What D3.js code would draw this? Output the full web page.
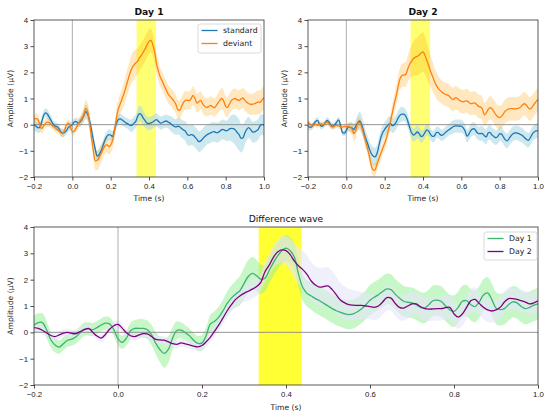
<!DOCTYPE html>
<meta charset="utf-8">
<head>
<style>
  body {margin: 0; background: #fff;}
  svg {font-family: "DejaVu Sans", sans-serif;}
  .tick text {font-size: 7.8px; fill: #222;}
  .tick line {stroke: #222; stroke-width: 0.8;}
  .domain {display: none;}
  .lbl {font-size: 7.6px; fill: #222;}
</style>
<script src="https://d3js.org/d3.v7.min.js"></script>
</head>
<body>
<script>
// sampling grid: -0.2 s to 1.0 s, every 10 ms
var times = d3.range(121).map(function(i) {return +(-0.2 + i * 0.01).toFixed(2);});
var xTicks = [-0.2, 0.0, 0.2, 0.4, 0.6, 0.8, 1.0];
var yTicks = [-2, -1, 0, 1, 2, 3, 4];
var window1 = [0.335, 0.437];

// Day 1
var d1Std = [0.0,-0.05,-0.12,-0.1,0.1,0.35,0.45,0.4,0.28,0.15,
  0.02,-0.05,-0.08,-0.15,-0.28,-0.32,-0.3,-0.22,-0.1,-0.06,
  0.0,0.1,0.12,0.06,0.1,0.2,0.35,0.5,0.4,0.15,
  -0.2,-0.6,-0.95,-1.2,-1.15,-1.0,-0.8,-0.6,-0.45,-0.38,
  -0.4,-0.45,-0.2,0.05,0.2,0.22,0.18,0.12,0.07,0.03,
  -0.02,-0.03,0.05,0.12,0.3,0.42,0.38,0.25,0.15,0.06,
  0.04,0.07,0.1,0.16,0.19,0.12,0.06,0.08,0.12,0.14,
  0.1,0.06,0.0,-0.06,-0.09,-0.06,-0.08,-0.15,-0.2,-0.25,
  -0.38,-0.41,-0.38,-0.4,-0.48,-0.56,-0.65,-0.62,-0.54,-0.46,
  -0.4,-0.35,-0.32,-0.28,-0.27,-0.3,-0.3,-0.25,-0.19,-0.19,
  -0.23,-0.22,-0.16,-0.14,-0.15,-0.2,-0.3,-0.38,-0.52,-0.5,
  -0.32,-0.18,-0.11,-0.18,-0.28,-0.28,-0.24,-0.18,-0.04,0.01,
  -0.03];
var d1StdSem = [0.22,0.22,0.2,0.2,0.2,0.18,0.18,0.18,0.18,0.18,
  0.15,0.15,0.15,0.15,0.15,0.15,0.15,0.15,0.15,0.15,
  0.15,0.15,0.15,0.15,0.18,0.2,0.25,0.28,0.28,0.25,
  0.22,0.2,0.2,0.2,0.2,0.2,0.2,0.2,0.2,0.2,
  0.2,0.2,0.2,0.2,0.2,0.2,0.2,0.2,0.2,0.2,
  0.22,0.25,0.25,0.25,0.28,0.3,0.3,0.28,0.25,0.25,
  0.25,0.25,0.25,0.25,0.25,0.25,0.25,0.25,0.25,0.25,
  0.25,0.28,0.3,0.3,0.3,0.32,0.32,0.35,0.35,0.38,
  0.4,0.4,0.4,0.4,0.4,0.4,0.4,0.4,0.4,0.4,
  0.38,0.38,0.38,0.38,0.38,0.38,0.38,0.38,0.38,0.38,
  0.38,0.4,0.45,0.5,0.55,0.58,0.6,0.6,0.55,0.5,
  0.45,0.42,0.4,0.4,0.4,0.4,0.4,0.4,0.4,0.4,
  0.4];
var d1Dev = [0.22,0.23,0.2,0.0,-0.15,-0.05,0.05,0.1,0.08,0.0,
  -0.06,-0.12,-0.18,-0.24,-0.3,-0.34,-0.2,0.0,0.06,-0.1,
  -0.26,-0.25,-0.12,0.0,0.14,0.25,0.4,0.62,0.5,0.05,
  -0.5,-1.0,-1.38,-1.36,-1.25,-1.1,-0.95,-0.82,-0.76,-0.84,
  -0.78,-0.6,-0.25,0.25,0.6,0.8,1.0,1.2,1.45,1.7,
  1.95,2.15,2.27,2.35,2.42,2.55,2.65,2.77,2.9,3.05,
  3.18,3.22,3.05,2.75,2.3,2.02,1.8,1.65,1.48,1.32,
  1.17,1.08,1.0,0.9,0.78,0.58,0.55,0.7,0.85,0.93,
  0.93,0.92,1.0,1.12,1.0,0.82,0.88,0.93,0.8,0.7,
  0.66,0.68,0.74,0.7,0.65,0.72,0.83,0.93,1.0,0.9,
  0.7,0.66,0.8,0.92,0.98,1.0,0.95,0.93,0.98,1.02,
  0.93,0.86,0.8,0.78,0.78,0.8,0.83,0.87,0.85,0.95,
  1.03];
var d1DevSem = [0.2,0.2,0.2,0.2,0.2,0.2,0.18,0.18,0.18,0.15,
  0.15,0.15,0.15,0.15,0.15,0.15,0.15,0.15,0.15,0.15,
  0.15,0.15,0.15,0.18,0.2,0.22,0.28,0.32,0.32,0.3,
  0.3,0.32,0.35,0.38,0.38,0.35,0.32,0.3,0.3,0.3,
  0.3,0.3,0.32,0.35,0.38,0.4,0.42,0.45,0.48,0.5,
  0.52,0.55,0.55,0.52,0.5,0.48,0.48,0.48,0.48,0.48,
  0.48,0.45,0.42,0.4,0.38,0.38,0.36,0.35,0.35,0.35,
  0.35,0.35,0.35,0.35,0.35,0.35,0.35,0.35,0.35,0.35,
  0.35,0.35,0.35,0.35,0.35,0.35,0.35,0.35,0.35,0.35,
  0.35,0.35,0.35,0.35,0.35,0.35,0.38,0.4,0.4,0.4,
  0.38,0.38,0.38,0.38,0.38,0.38,0.38,0.38,0.38,0.38,
  0.4,0.4,0.4,0.4,0.4,0.42,0.45,0.45,0.45,0.45,
  0.45];

// Day 2
var d2Std = [-0.06,-0.1,-0.08,0.03,0.12,0.16,0.02,-0.06,-0.02,0.08,
  0.16,0.1,-0.02,-0.06,0.0,0.1,0.18,-0.03,-0.3,-0.32,
  -0.22,-0.1,-0.1,-0.13,-0.18,-0.05,0.08,0.14,0.0,-0.25,
  -0.5,-0.7,-0.92,-1.1,-1.2,-1.23,-1.1,-0.8,-0.5,-0.3,
  -0.18,-0.08,0.01,0.04,-0.04,0.0,0.1,0.25,0.36,0.4,
  0.4,0.33,0.15,-0.1,-0.3,-0.4,-0.35,-0.28,-0.34,-0.45,
  -0.42,-0.3,-0.2,-0.25,-0.38,-0.45,-0.42,-0.3,-0.3,-0.38,
  -0.41,-0.35,-0.28,-0.22,-0.17,-0.12,-0.07,-0.05,-0.05,-0.06,
  -0.06,-0.12,-0.25,-0.44,-0.35,-0.22,-0.16,-0.17,-0.28,-0.34,
  -0.34,-0.34,-0.42,-0.47,-0.32,-0.3,-0.4,-0.45,-0.5,-0.45,
  -0.35,-0.36,-0.48,-0.58,-0.62,-0.52,-0.42,-0.35,-0.31,-0.32,
  -0.34,-0.38,-0.42,-0.5,-0.56,-0.6,-0.5,-0.36,-0.28,-0.24,
  -0.24];
var d2StdSem = [0.12,0.12,0.12,0.12,0.12,0.12,0.12,0.12,0.12,0.12,
  0.12,0.12,0.12,0.12,0.12,0.12,0.12,0.12,0.12,0.12,
  0.15,0.15,0.18,0.2,0.22,0.25,0.3,0.35,0.35,0.32,
  0.3,0.3,0.3,0.32,0.35,0.35,0.32,0.3,0.3,0.28,
  0.28,0.28,0.28,0.28,0.28,0.28,0.28,0.28,0.28,0.28,
  0.25,0.25,0.25,0.25,0.25,0.25,0.25,0.25,0.25,0.25,
  0.22,0.22,0.22,0.22,0.22,0.22,0.22,0.22,0.22,0.22,
  0.22,0.22,0.22,0.22,0.22,0.25,0.25,0.25,0.25,0.25,
  0.25,0.25,0.25,0.25,0.25,0.25,0.25,0.25,0.25,0.25,
  0.28,0.28,0.28,0.28,0.28,0.28,0.28,0.28,0.28,0.28,
  0.28,0.28,0.28,0.28,0.28,0.28,0.28,0.28,0.28,0.28,
  0.28,0.28,0.28,0.28,0.28,0.28,0.28,0.28,0.28,0.28,
  0.28];
var d2Dev = [0.1,0.02,-0.05,-0.02,0.01,-0.03,0.02,0.03,0.0,0.05,
  0.1,0.03,-0.06,-0.09,-0.05,-0.03,-0.05,-0.08,-0.09,-0.07,
  -0.08,-0.07,-0.1,-0.18,-0.34,-0.2,0.05,0.08,-0.1,-0.35,
  -0.62,-0.9,-1.2,-1.55,-1.73,-1.72,-1.5,-1.3,-1.1,-0.9,
  -0.72,-0.5,-0.2,0.12,0.45,0.8,1.1,1.45,1.75,1.88,
  1.9,1.92,2.12,2.3,2.42,2.52,2.58,2.61,2.66,2.74,
  2.78,2.65,2.45,2.25,2.02,1.85,1.65,1.5,1.38,1.3,
  1.24,1.18,1.15,1.13,1.07,0.98,0.97,1.03,1.0,0.93,
  0.89,0.87,0.9,0.91,0.85,0.8,0.82,0.83,0.77,0.7,
  0.68,0.6,0.38,0.45,0.58,0.65,0.6,0.5,0.38,0.3,
  0.27,0.32,0.42,0.52,0.57,0.6,0.61,0.61,0.6,0.61,
  0.63,0.68,0.76,0.8,0.74,0.64,0.6,0.68,0.78,0.88,
  0.96];
var d2DevSem = [0.1,0.1,0.1,0.1,0.1,0.1,0.1,0.1,0.1,0.1,
  0.1,0.1,0.1,0.1,0.1,0.1,0.1,0.1,0.1,0.1,
  0.12,0.15,0.2,0.25,0.3,0.28,0.22,0.2,0.2,0.22,
  0.22,0.22,0.22,0.25,0.25,0.25,0.25,0.25,0.25,0.25,
  0.25,0.25,0.28,0.3,0.32,0.35,0.38,0.4,0.42,0.45,
  0.45,0.48,0.5,0.55,0.6,0.65,0.7,0.72,0.75,0.75,
  0.75,0.72,0.7,0.65,0.6,0.55,0.52,0.5,0.48,0.45,
  0.45,0.45,0.45,0.45,0.45,0.45,0.45,0.45,0.45,0.45,
  0.45,0.45,0.45,0.45,0.45,0.45,0.45,0.45,0.45,0.45,
  0.45,0.45,0.45,0.45,0.45,0.45,0.45,0.45,0.45,0.45,
  0.45,0.45,0.45,0.45,0.45,0.45,0.45,0.45,0.45,0.45,
  0.45,0.45,0.45,0.45,0.45,0.45,0.45,0.45,0.45,0.45,
  0.45];

// difference waves (deviant - standard)
var d1Diff = [0.28,0.37,0.37,0.1,-0.28,-0.48,-0.56,-0.43,-0.3,-0.26,
  -0.17,-0.02,0.12,0.13,0.1,0.18,0.28,0.35,0.32,0.1,
  -0.25,-0.38,-0.22,0.06,0.15,0.15,0.15,0.1,-0.1,-0.42,
  -0.66,-0.8,-0.65,-0.22,0.07,0.08,-0.01,-0.13,-0.3,-0.42,
  -0.4,-0.12,0.32,0.42,0.58,0.82,1.1,1.3,1.45,1.58,
  1.85,2.12,2.24,2.15,2.02,2.05,2.35,2.65,2.9,3.1,
  3.2,3.1,2.85,2.2,1.7,1.48,1.38,1.28,1.2,1.1,
  1.0,0.9,0.82,0.76,0.7,0.67,0.7,0.78,0.9,1.05,
  1.22,1.33,1.43,1.55,1.65,1.62,1.45,1.3,1.18,1.14,
  1.12,1.05,0.95,0.93,1.05,1.2,1.22,1.17,1.0,0.85,
  0.8,0.95,1.18,1.2,1.05,0.98,1.15,1.42,1.5,1.25,
  0.92,0.86,0.9,1.05,1.16,1.12,0.98,0.9,0.95,1.03,
  1.08];
var d1DiffSem = [0.35,0.35,0.35,0.32,0.3,0.28,0.25,0.25,0.25,0.25,
  0.25,0.25,0.25,0.25,0.25,0.25,0.25,0.25,0.25,0.25,
  0.25,0.25,0.28,0.3,0.32,0.35,0.35,0.35,0.38,0.42,
  0.48,0.55,0.5,0.42,0.35,0.3,0.28,0.28,0.28,0.28,
  0.3,0.32,0.35,0.38,0.4,0.42,0.45,0.48,0.5,0.55,
  0.6,0.62,0.62,0.6,0.55,0.5,0.5,0.5,0.5,0.5,
  0.5,0.5,0.5,0.5,0.5,0.5,0.52,0.55,0.55,0.55,
  0.55,0.55,0.55,0.55,0.55,0.55,0.55,0.55,0.55,0.55,
  0.58,0.58,0.58,0.58,0.58,0.58,0.58,0.58,0.58,0.58,
  0.58,0.58,0.58,0.58,0.58,0.58,0.58,0.58,0.58,0.58,
  0.6,0.6,0.6,0.6,0.6,0.6,0.6,0.6,0.6,0.6,
  0.6,0.6,0.6,0.6,0.6,0.6,0.6,0.6,0.6,0.6,
  0.6];
var d2Diff = [0.18,0.15,0.08,-0.02,-0.12,-0.16,-0.1,-0.03,0.0,-0.04,
  -0.05,0.03,0.1,0.15,0.0,-0.14,-0.22,-0.08,0.12,0.25,
  0.3,0.16,-0.02,-0.13,-0.16,-0.1,-0.05,-0.06,-0.16,-0.27,
  -0.29,-0.3,-0.36,-0.43,-0.46,-0.4,-0.44,-0.48,-0.52,-0.55,
  -0.5,-0.36,-0.18,0.05,0.28,0.55,0.82,1.05,1.25,1.38,
  1.48,1.56,1.64,1.74,1.9,2.3,2.55,2.85,3.05,3.13,
  3.1,2.95,2.7,2.52,2.38,2.2,1.95,1.8,1.72,1.74,
  1.76,1.62,1.42,1.22,1.12,1.05,1.03,1.02,1.02,1.0,
  0.98,0.95,1.0,1.15,1.32,1.3,1.1,0.95,0.92,1.0,
  1.08,1.08,0.98,0.9,0.88,0.89,0.9,0.9,0.94,0.95,
  0.7,0.58,0.7,0.95,1.2,1.25,1.1,0.95,0.85,0.81,
  0.85,0.95,1.15,1.28,1.28,1.25,1.2,1.15,1.08,1.12,
  1.2];
var d2DiffSem = [0.15,0.15,0.15,0.15,0.15,0.15,0.15,0.15,0.15,0.15,
  0.15,0.15,0.15,0.15,0.15,0.15,0.15,0.15,0.15,0.15,
  0.15,0.15,0.15,0.15,0.15,0.15,0.15,0.15,0.15,0.15,
  0.15,0.15,0.15,0.15,0.15,0.15,0.15,0.15,0.15,0.15,
  0.18,0.18,0.2,0.2,0.22,0.22,0.25,0.25,0.28,0.3,
  0.32,0.35,0.35,0.35,0.35,0.38,0.4,0.42,0.45,0.5,
  0.55,0.6,0.65,0.7,0.72,0.72,0.72,0.72,0.72,0.72,
  0.7,0.7,0.68,0.65,0.62,0.6,0.58,0.55,0.52,0.5,
  0.48,0.48,0.48,0.48,0.48,0.48,0.48,0.48,0.48,0.48,
  0.45,0.45,0.45,0.45,0.45,0.45,0.45,0.45,0.45,0.45,
  0.45,0.45,0.45,0.45,0.45,0.45,0.45,0.45,0.45,0.45,
  0.42,0.42,0.42,0.42,0.42,0.42,0.42,0.42,0.42,0.42,
  0.42];

var svg = d3.select("body").append("svg")
    .attr("width", 550)
    .attr("height", 415);

function drawPanel(box, opts) {
    var x = d3.scaleLinear().domain([-0.2, 1.0]).range([box.x0, box.x1]);
    var y = d3.scaleLinear().domain([-2, 4]).range([box.y1, box.y0]);
    var g = svg.append("g");

    svg.append("clipPath").attr("id", opts.id)
      .append("rect")
        .attr("x", box.x0).attr("y", box.y0)
        .attr("width", box.x1 - box.x0).attr("height", box.y1 - box.y0);

    var plot = g.append("g").attr("clip-path", "url(#" + opts.id + ")");

    plot.append("rect")
        .attr("x", x(window1[0]))
        .attr("width", x(window1[1]) - x(window1[0]))
        .attr("y", box.y0)
        .attr("height", box.y1 - box.y0)
        .attr("fill", opts.yellow)
        .attr("opacity", opts.yellowOpacity);

    opts.series.forEach(function(s) {
        var area = d3.area()
            .x(function(d, i) {return x(times[i]);})
            .y0(function(d, i) {return y(d - s.sem[i]);})
            .y1(function(d, i) {return y(d + s.sem[i]);})
            .curve(d3.curveCatmullRom);
        plot.append("path")
            .datum(s.values)
            .attr("d", area)
            .attr("fill", s.band)
            .attr("opacity", s.bandOpacity);
    });

    plot.append("line")
        .attr("x1", box.x0).attr("x2", box.x1)
        .attr("y1", y(0)).attr("y2", y(0))
        .attr("stroke", "#888").attr("stroke-width", 0.9);
    plot.append("line")
        .attr("x1", x(0)).attr("x2", x(0))
        .attr("y1", box.y0).attr("y2", box.y1)
        .attr("stroke", "#999").attr("stroke-width", 0.8);

    opts.series.forEach(function(s) {
        var line = d3.line()
            .x(function(d, i) {return x(times[i]);})
            .y(function(d) {return y(d);})
            .curve(d3.curveCatmullRom);
        plot.append("path")
            .datum(s.values)
            .attr("d", line)
            .attr("fill", "none")
            .attr("stroke", s.color)
            .attr("stroke-width", 1.3);
    });

    g.append("g")
        .attr("transform", "translate(0," + box.y1 + ")")
        .call(d3.axisBottom(x).tickValues(xTicks).tickFormat(d3.format(".1f")).tickSize(3.5).tickPadding(2.5));
    g.append("g")
        .attr("transform", "translate(" + box.x0 + ",0)")
        .call(d3.axisLeft(y).tickValues(yTicks).tickFormat(d3.format("d")).tickSize(3.5).tickPadding(2.5));

    g.append("rect")
        .attr("x", box.x0).attr("y", box.y0)
        .attr("width", box.x1 - box.x0).attr("height", box.y1 - box.y0)
        .attr("fill", "none").attr("stroke", "#333").attr("stroke-width", 0.8);

    g.append("text")
        .attr("x", (box.x0 + box.x1) / 2).attr("y", opts.titleY)
        .attr("text-anchor", "middle")
        .style("font-size", "9.2px")
        .style("font-weight", opts.bold ? "bold" : "normal")
        .style("fill", "#111")
        .text(opts.title);

    g.append("text")
        .attr("class", "lbl")
        .attr("x", (box.x0 + box.x1) / 2).attr("y", opts.xlabelY)
        .attr("text-anchor", "middle")
        .text("Time (s)");

    g.append("text")
        .attr("class", "lbl")
        .attr("transform", "translate(" + (box.x0 - 21) + "," + ((box.y0 + box.y1) / 2) + ") rotate(-90)")
        .attr("text-anchor", "middle")
        .text("Amplitude (μV)");

    if (opts.legend) {
        var L = opts.legend;
        var lg = g.append("g").attr("transform", "translate(" + L.x + "," + L.y + ")");
        lg.append("rect")
            .attr("width", L.w).attr("height", L.h)
            .attr("rx", 2)
            .attr("fill", "#fff").attr("fill-opacity", 0.85)
            .attr("stroke", "#d0d0d0").attr("stroke-width", 0.8);
        opts.series.forEach(function(s, i) {
            var yy = 6.5 + i * 13;
            lg.append("line")
                .attr("x1", 3.5).attr("x2", 19.5)
                .attr("y1", yy).attr("y2", yy)
                .attr("stroke", s.color).attr("stroke-width", 1.3);
            lg.append("text")
                .attr("class", "lbl")
                .attr("x", 25).attr("y", yy + 2.8)
                .style("font-size", "7.8px")
                .text(s.name);
        });
    }
}

var blue = "#1f77b4", orange = "#ff7f0e";

drawPanel({x0: 34, x1: 264, y0: 20, y1: 177}, {
    id: "clipA", title: "Day 1", bold: true, titleY: 14.5, xlabelY: 201,
    yellow: "#ffff00", yellowOpacity: 0.55,
    series: [
        {name: "standard", values: d1Std, sem: d1StdSem, color: blue, band: "#add8e6", bandOpacity: 0.6},
        {name: "deviant", values: d1Dev, sem: d1DevSem, color: orange, band: "#ffa500", bandOpacity: 0.25}
    ],
    legend: {x: 198, y: 24, w: 63, h: 29}
});

drawPanel({x0: 308, x1: 538, y0: 20, y1: 177}, {
    id: "clipB", title: "Day 2", bold: true, titleY: 14.5, xlabelY: 201,
    yellow: "#ffff00", yellowOpacity: 0.55,
    series: [
        {name: "standard", values: d2Std, sem: d2StdSem, color: blue, band: "#add8e6", bandOpacity: 0.6},
        {name: "deviant", values: d2Dev, sem: d2DevSem, color: orange, band: "#ffa500", bandOpacity: 0.25}
    ]
});

drawPanel({x0: 34, x1: 538, y0: 227, y1: 385}, {
    id: "clipC", title: "Difference wave", bold: false, titleY: 221.5, xlabelY: 410,
    yellow: "#ffff00", yellowOpacity: 0.8,
    series: [
        {name: "Day 1", values: d1Diff, sem: d1DiffSem, color: "#3cb371", band: "#90ee90", bandOpacity: 0.5},
        {name: "Day 2", values: d2Diff, sem: d2DiffSem, color: "#800080", band: "#e6e6fa", bandOpacity: 0.6}
    ],
    legend: {x: 484, y: 232, w: 53, h: 28}
});
</script>
</body>
